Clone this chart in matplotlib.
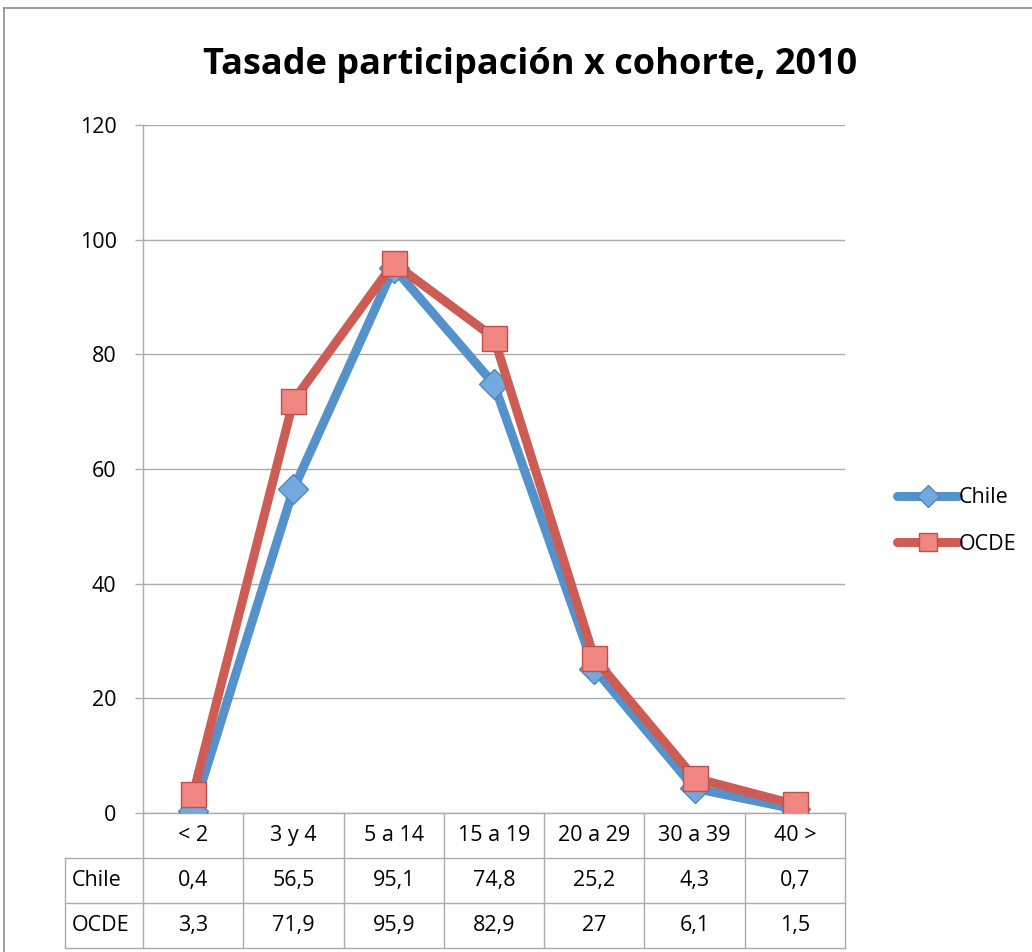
import matplotlib
matplotlib.use('Agg')
import matplotlib.pyplot as plt
import matplotlib.transforms as mtransforms
from matplotlib.lines import Line2D

categories = ['< 2', '3 y 4', '5 a 14', '15 a 19', '20 a 29', '30 a 39', '40 >']
chile = [0.4, 56.5, 95.1, 74.8, 25.2, 4.3, 0.7]
ocde = [3.3, 71.9, 95.9, 82.9, 27, 6.1, 1.5]
yticks = [0, 20, 40, 60, 80, 100, 120]

plt.rcParams['font.family'] = ['Open Sans', 'DejaVu Sans']
fs = 15.5

fig = plt.figure(figsize=(10.32, 9.52), dpi=100)
ax = fig.add_axes([143 / 1032, 1 - 813 / 952, (845 - 143) / 1032, (813 - 125) / 952])

x = list(range(len(categories)))
ax.plot(x, chile, color='#5592CC', linewidth=6.5, marker='D', markersize=15,
        markerfacecolor='#74A9E0', markeredgecolor='#4F86C0', markeredgewidth=1,
        label='Chile', zorder=3, solid_joinstyle='round', solid_capstyle='round')
ax.plot(x, ocde, color='#CD5C55', linewidth=6.5, marker='s', markersize=18,
        markerfacecolor='#F08680', markeredgecolor='#C0504D', markeredgewidth=1,
        label='OCDE', zorder=4, solid_joinstyle='round', solid_capstyle='round')

ax.set_xlim(-0.5, len(categories) - 0.5)
ax.set_ylim(0, 120)
ax.set_yticks(yticks)
ax.set_yticklabels([str(t) for t in yticks], fontsize=fs)
ax.set_xticks([])
ax.yaxis.grid(True, color='#ABABAB', linewidth=1)
ax.set_axisbelow(True)
ax.tick_params(axis='y', length=6, width=1, color='#ABABAB', pad=13)
for s in ['top', 'right']:
    ax.spines[s].set_visible(False)
for s in ['left', 'bottom']:
    ax.spines[s].set_color('#ABABAB')
    ax.spines[s].set_linewidth(1)

# data table under the axis
trans = mtransforms.blended_transform_factory(ax.transData, ax.transAxes)
rh = 45 / 688
xl = -0.5 - (143 - 65) / ((845 - 143) / 7)
xr = len(categories) - 0.5
lc = '#ABABAB'
for i in range(len(categories) + 1):
    ax.add_line(Line2D([i - 0.5, i - 0.5], [0, -3 * rh], transform=trans, color=lc, lw=1, clip_on=False))
ax.add_line(Line2D([xl, xl], [-rh, -3 * rh], transform=trans, color=lc, lw=1, clip_on=False))
for k in [1, 2, 3]:
    ax.add_line(Line2D([xl, xr], [-k * rh, -k * rh], transform=trans, color=lc, lw=1, clip_on=False))

def fmt(v):
    return f'{v:g}'.replace('.', ',')

for i, c in enumerate(categories):
    ax.text(i, -0.5 * rh, c, transform=trans, ha='center', va='center', fontsize=fs)
    ax.text(i, -1.5 * rh, fmt(chile[i]), transform=trans, ha='center', va='center', fontsize=fs)
    ax.text(i, -2.5 * rh, fmt(ocde[i]), transform=trans, ha='center', va='center', fontsize=fs)
ax.text(xl + 0.07, -1.5 * rh, 'Chile', transform=trans, ha='left', va='center', fontsize=fs)
ax.text(xl + 0.07, -2.5 * rh, 'OCDE', transform=trans, ha='left', va='center', fontsize=fs)

fig.text(530 / 1032, 1 - 65 / 952, 'Tasade participación x cohorte, 2010',
         ha='center', va='center', fontsize=26, fontweight='bold')

leg = fig.legend(loc='center left', bbox_to_anchor=(878 / 1032, 1 - 521 / 952), frameon=False,
                 fontsize=fs, handlelength=2.8, handletextpad=0.05, labelspacing=1.2,
                 markerscale=0.75)
for h in leg.get_lines():
    h.set_solid_capstyle('round')

# outer chart border
fig.add_artist(Line2D([4 / 1032, 4 / 1032], [0, 1 - 8 / 952], transform=fig.transFigure, color='#8C8C8C', lw=1.2))
fig.add_artist(Line2D([4 / 1032, 1], [1 - 8 / 952, 1 - 8 / 952], transform=fig.transFigure, color='#8C8C8C', lw=1.2))

fig.savefig('out.png', dpi=100)
